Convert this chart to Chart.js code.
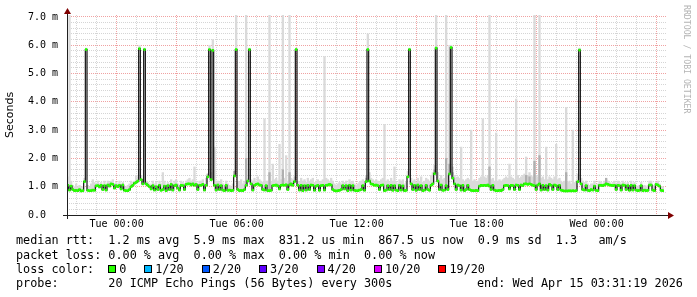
<!DOCTYPE html>
<html>
<head>
<meta charset="utf-8">
<script src="https://cdn.jsdelivr.net/npm/chart.js@4/dist/chart.umd.min.js"></script>
<style>
  body { margin: 0; background: #fff; }
  #wrap { position: relative; width: 697px; height: 297px; overflow: hidden; background: #fff; }
  #chart { position: absolute; left: 0; top: 0; }
  .leg { position: absolute; left: 16px; font-family: "DejaVu Sans Mono", monospace; font-size: 11.8px;
         line-height: 14px; white-space: pre; color: #000; }
  #lossRow { display: flex; align-items: center; height: 14px; }
  #lossRow .box { width: 6px; height: 6px; border: 1px solid #000; margin-right: 3px; }
  #lossRow .lbl { margin-right: 18px; }
  #rrd { position: absolute; left: 682px; top: 5px; font-family: "DejaVu Sans Mono", monospace; font-size: 8.2px;
         color: #b4b4b4; writing-mode: vertical-rl; white-space: pre; line-height: 9px; }
</style>
</head>
<body>
<div id="wrap">
  <canvas id="chart" width="697" height="297"></canvas>
  <div class="leg" style="top:233px">median rtt:  1.2 ms avg  5.9 ms max  831.2 us min  867.5 us now  0.9 ms sd  1.3   am/s</div>
  <div class="leg" style="top:248px">packet loss: 0.00 % avg  0.00 % max  0.00 % min  0.00 % now</div>
  <div class="leg" style="top:262px"><div id="lossRow"><span style="margin-right:14px">loss color:</span></div></div>
  <div class="leg" style="top:276px">probe:       20 ICMP Echo Pings (56 Bytes) every 300s</div>
  <div class="leg" style="top:276px; left:477px">end: Wed Apr 15 03:31:19 2026</div>
  <div id="rrd">RRDTOOL / TOBI OETIKER</div>
</div>
<script>
// 5 minute samples, first one starts Mon 21:31:19 (minutes relative to Tue 00:00)
const startMin = -148.7;
const stepMin = 5;

// median rtt in ms
const median = [
  1.05,0.88,1.02,0.9,0.86,0.87,0.86,0.9,0.85,0.86,
  1.18,5.85,0.87,0.86,0.86,0.88,0.87,1.03,1.04,0.99,
  1.05,0.9,1.04,0.88,1.06,1.02,1.1,1.08,0.95,1.04,
  1.0,1.05,0.92,1.06,0.87,0.86,0.86,0.9,1.0,1.05,
  1.12,1.15,1.2,5.88,1.25,1.1,5.85,1.1,1.05,1.0,
  0.92,1.04,0.88,1.0,0.9,1.05,0.87,0.9,1.02,0.86,
  1.04,0.9,1.08,0.88,1.04,1.06,0.95,0.88,1.05,1.04,
  0.9,1.08,1.1,1.1,1.06,1.1,1.05,1.08,0.9,1.05,
  1.05,1.08,0.88,1.05,1.35,5.85,1.25,5.82,1.05,0.88,
  1.06,0.9,1.04,0.88,0.86,1.05,0.87,0.88,0.86,0.87,
  1.38,5.85,0.9,0.86,0.87,0.86,0.9,1.05,1.2,5.85,
  1.1,0.88,1.05,1.08,1.1,1.06,1.05,0.9,0.88,1.04,
  0.86,0.86,0.87,1.04,1.05,1.06,1.03,0.92,1.05,1.06,
  1.05,1.07,0.9,1.06,1.1,1.05,1.18,5.85,1.05,0.88,
  1.05,0.86,1.04,0.88,1.05,0.9,1.06,1.05,0.87,1.02,
  1.05,0.87,1.04,1.05,0.88,1.05,1.06,1.08,1.06,0.9,
  0.86,0.85,0.86,0.87,0.9,1.04,0.92,1.04,0.86,1.05,
  0.88,1.04,0.87,0.86,0.86,0.88,0.9,1.04,0.87,1.18,
  5.85,1.2,1.1,1.08,1.05,1.06,1.04,0.9,1.05,1.06,
  0.86,0.88,1.04,0.9,1.05,0.87,1.04,0.88,0.86,1.05,
  0.88,1.03,0.86,0.87,1.35,5.85,1.1,0.9,1.05,0.87,
  1.06,0.9,1.04,0.86,0.88,1.05,0.9,0.87,1.05,1.1,
  1.46,5.9,1.2,0.9,1.06,0.87,0.88,1.04,0.9,1.45,
  5.92,1.3,1.1,0.9,1.06,1.04,0.88,1.05,0.86,0.9,
  1.05,0.9,0.87,0.86,0.86,0.87,0.86,1.02,1.05,1.04,
  1.05,1.04,1.06,1.02,0.9,1.05,0.88,0.86,0.86,0.87,
  0.86,0.9,1.04,1.05,1.04,0.92,1.05,1.04,0.9,1.06,
  1.05,0.9,1.06,1.04,1.1,1.1,1.08,1.1,1.08,1.05,
  1.04,0.9,1.06,1.1,0.88,1.05,0.9,1.04,0.88,1.08,
  1.05,0.9,1.06,1.04,0.9,1.05,0.88,0.86,0.85,0.85,
  0.85,0.86,0.85,0.86,0.85,0.86,1.18,5.83,1.1,0.9,
  0.88,1.04,0.87,0.86,0.9,0.88,1.02,0.87,0.86,1.05,
  1.05,1.04,1.06,1.1,1.08,1.06,1.05,1.04,1.05,0.9,
  1.05,1.04,0.88,1.06,1.05,0.9,1.04,0.87,1.05,0.88,
  1.04,0.88,0.86,0.87,1.04,0.86,0.88,0.86,0.87,1.06,
  1.06,0.88,0.86,1.08,1.06,1.02,0.87,0.86
];

// top of the smoke (slowest ping) in ms
const smokeMax = [
  1.35,7.2,1.2,1.05,1.0,1.1,1.0,1.05,1.0,1.0,
  1.3,5.9,1.05,1.0,1.1,1.25,1.15,1.1,1.2,1.1,
  1.15,1.05,1.2,1.05,1.2,1.15,1.2,1.25,1.1,1.15,
  1.1,1.2,1.05,1.15,1.0,1.0,1.05,1.1,1.2,1.15,
  1.2,1.4,1.35,6.0,1.4,1.25,5.9,1.2,1.15,1.1,
  1.05,1.2,1.1,1.15,1.05,1.2,1.1,1.5,1.2,1.0,
  1.15,1.05,1.25,1.05,1.2,1.25,1.1,1.05,1.2,1.15,
  1.1,1.2,1.25,1.3,1.2,1.25,1.7,1.2,1.05,1.2,
  1.2,1.25,1.1,1.3,1.45,6.0,1.5,6.2,2.4,1.2,
  1.2,1.15,1.25,1.1,1.05,1.2,1.1,1.05,1.0,1.1,
  1.55,7.2,1.2,1.15,1.25,1.1,1.2,7.2,1.3,5.9,
  1.25,1.2,1.3,1.2,1.35,1.25,1.2,1.15,3.4,1.2,
  1.2,7.2,1.15,1.8,1.25,1.3,1.2,2.5,1.25,7.2,
  1.3,2.1,1.2,7.2,1.3,1.25,1.35,5.9,1.2,1.15,
  1.3,1.2,1.25,1.15,1.3,1.2,1.25,1.3,1.15,1.2,
  1.25,1.15,1.2,1.25,5.6,1.3,1.25,1.2,1.3,1.2,
  1.1,1.05,1.1,1.15,1.1,1.2,1.15,1.2,1.1,1.25,
  1.15,1.2,1.1,1.05,1.1,1.15,1.2,1.25,1.2,1.4,
  6.4,1.5,1.3,1.25,1.2,1.25,1.2,1.15,1.25,1.3,
  3.2,1.2,1.25,1.15,1.3,1.2,1.7,1.15,1.1,1.25,
  1.2,1.25,1.1,1.15,1.55,5.9,1.3,1.2,1.25,1.15,
  1.3,1.2,1.35,1.15,1.2,1.3,1.25,1.2,1.4,1.5,
  1.75,7.2,1.5,1.3,1.4,1.25,1.3,7.2,1.4,6.0,
  6.0,1.7,1.4,1.3,1.35,1.3,2.4,1.25,1.2,1.25,
  1.3,1.25,3.0,1.2,1.25,1.2,1.2,1.3,1.35,3.4,
  1.35,1.3,1.4,7.2,1.25,1.3,1.2,2.9,1.2,1.25,
  1.2,1.25,1.3,1.35,1.3,1.8,1.35,1.3,1.25,4.1,
  1.4,1.3,1.35,1.4,1.45,2.05,1.4,1.5,1.4,1.35,
  7.2,1.4,1.35,7.2,1.3,1.35,1.25,2.4,1.25,1.35,
  1.3,1.25,1.35,2.5,1.25,1.3,1.2,1.15,1.2,3.8,
  1.15,1.2,1.1,3.0,1.15,1.2,1.45,5.9,1.3,1.2,
  1.15,1.2,1.1,1.05,1.1,1.1,1.2,1.05,1.1,1.2,
  1.15,1.1,1.2,1.25,1.2,1.15,1.1,1.15,1.2,1.1,
  1.2,1.15,1.05,1.2,1.15,1.1,1.15,1.05,1.2,1.1,
  1.15,1.05,1.0,1.05,1.15,1.0,1.05,1.0,1.05,1.2,
  1.2,1.05,1.0,1.15,1.2,1.1,1.0,1.0
];

// darker smoke (sample index, top in ms)
const smokeDark = [
  [84,1.45],[100,1.55],[107,2.0],[121,1.5],[129,1.6],[133,1.5],[179,1.3],
  [220,1.6],[227,2.0],[229,1.8],[231,1.5],[253,1.7],[275,1.4],[277,1.35],
  [280,1.9],[283,2.1],[299,1.5],[323,1.3]
];

const xLabelMinutes = [0, 360, 720, 1080, 1440];
const xLabelText = ['Tue 00:00', 'Tue 06:00', 'Tue 12:00', 'Tue 18:00', 'Wed 00:00'];

const lossLabels = ['0', '1/20', '2/20', '3/20', '4/20', '10/20', '19/20'];
const lossColors = ['#26ff00', '#00b8ff', '#0059ff', '#5e00ff', '#7e00ff', '#dd00ff', '#ff0000'];

const yMax = 7.07;
const bandHalf = 0.035;

const sampleX = i => startMin + stepMin * (i + 0.5);

const lineData = median.map((v, i) => ({ x: sampleX(i), y: v }));
const bandData = median.map((v, i) => ({ x: sampleX(i), y: [v - bandHalf, v + bandHalf] }));
const smokeData = smokeMax.map((v, i) => ({ x: sampleX(i), y: [median[i], v] }));
const darkData = smokeDark.map(([i, v]) => ({ x: sampleX(i), y: [median[i], v] }));

const row = document.getElementById('lossRow');
lossLabels.forEach((l, i) => {
  const b = document.createElement('span');
  b.className = 'box';
  b.style.background = lossColors[i];
  const t = document.createElement('span');
  t.className = 'lbl';
  t.textContent = l;
  row.appendChild(b);
  row.appendChild(t);
});

const gridGray = 'rgba(150,150,150,0.4)';
const gridRed = 'rgba(225,70,70,0.5)';

const axesPlugin = {
  id: 'rrdAxes',
  afterDatasetsDraw(chart) {
    const { ctx, chartArea: a } = chart;
    ctx.save();
    ctx.strokeStyle = '#202020';
    ctx.lineWidth = 1;
    ctx.beginPath();
    ctx.moveTo(a.left - 4, a.bottom + 0.5);
    ctx.lineTo(a.right + 2, a.bottom + 0.5);
    ctx.moveTo(a.left + 0.5, a.bottom + 4);
    ctx.lineTo(a.left + 0.5, a.top - 2);
    ctx.stroke();
    ctx.fillStyle = '#7f0000';
    ctx.beginPath();
    ctx.moveTo(a.right + 1, a.bottom - 3);
    ctx.lineTo(a.right + 7, a.bottom + 0.5);
    ctx.lineTo(a.right + 1, a.bottom + 4);
    ctx.closePath();
    ctx.fill();
    ctx.beginPath();
    ctx.moveTo(a.left - 3, a.top - 1);
    ctx.lineTo(a.left + 0.5, a.top - 7);
    ctx.lineTo(a.left + 4, a.top - 1);
    ctx.closePath();
    ctx.fill();
    ctx.restore();
  }
};

new Chart(document.getElementById('chart'), {
  type: 'bar',
  data: {
    datasets: [
      {
        type: 'bar', data: bandData, backgroundColor: '#26ff00',
        grouped: false, barPercentage: 1, categoryPercentage: 1, order: 1
      },
      {
        type: 'line', data: lineData, borderColor: '#111', borderWidth: 1.2,
        stepped: 'middle', pointRadius: 0, fill: false, order: 2
      },
      {
        type: 'bar', data: darkData, backgroundColor: 'rgb(175,175,175)',
        grouped: false, barPercentage: 1, categoryPercentage: 1, order: 3
      },
      {
        type: 'bar', data: smokeData, backgroundColor: 'rgb(218,218,218)',
        grouped: false, barPercentage: 1, categoryPercentage: 1, order: 4
      }
    ]
  },
  options: {
    responsive: false,
    animation: false,
    events: [],
    layout: { padding: { left: 0, right: 30, top: 15, bottom: 0 } },
    plugins: { legend: { display: false }, tooltip: { enabled: false } },
    scales: {
      x: {
        type: 'linear',
        offset: false,
        min: startMin,
        max: startMin + stepMin * 360,
        afterBuildTicks: (scale) => {
          const t = [];
          for (let m = -120; m <= 1620; m += 60) t.push({ value: m });
          scale.ticks = t;
        },
        afterFit: (scale) => { scale.height = 82; },
        ticks: {
          autoSkip: false,
          maxRotation: 0,
          padding: 3,
          color: '#000',
          font: { family: 'DejaVu Sans Mono', size: 10 },
          callback: (v) => {
            const k = xLabelMinutes.indexOf(v);
            return k >= 0 ? xLabelText[k] : '';
          }
        },
        grid: {
          offset: false,
          drawTicks: false,
          color: (c) => (c.tick && c.tick.value % 180 === 0 ? gridRed : gridGray)
        },
        border: { display: false, dash: [1, 1] }
      },
      y: {
        min: 0,
        max: yMax,
        afterBuildTicks: (scale) => {
          const t = [];
          for (let k = 0; k <= 35; k++) t.push({ value: k / 5 });
          scale.ticks = t;
        },
        afterFit: (scale) => { scale.width = 67; },
        ticks: {
          autoSkip: false,
          padding: 9,
          color: '#000',
          font: { family: 'DejaVu Sans Mono', size: 10 },
          callback: (v) => {
            if (Math.abs(v - Math.round(v)) > 1e-6) return '';
            return Math.round(v) === 0 ? '0.0  ' : Math.round(v).toFixed(1) + ' m';
          }
        },
        grid: {
          drawTicks: false,
          color: (c) => (c.tick && Math.abs(c.tick.value - Math.round(c.tick.value)) < 1e-6 ? gridRed : gridGray)
        },
        border: { display: false, dash: [1, 1] },
        title: {
          display: true,
          text: 'Seconds',
          color: '#000',
          font: { family: 'DejaVu Sans', size: 11 },
          padding: { top: 4, bottom: 0 }
        }
      }
    }
  },
  plugins: [axesPlugin]
});
</script>
</body>
</html>
